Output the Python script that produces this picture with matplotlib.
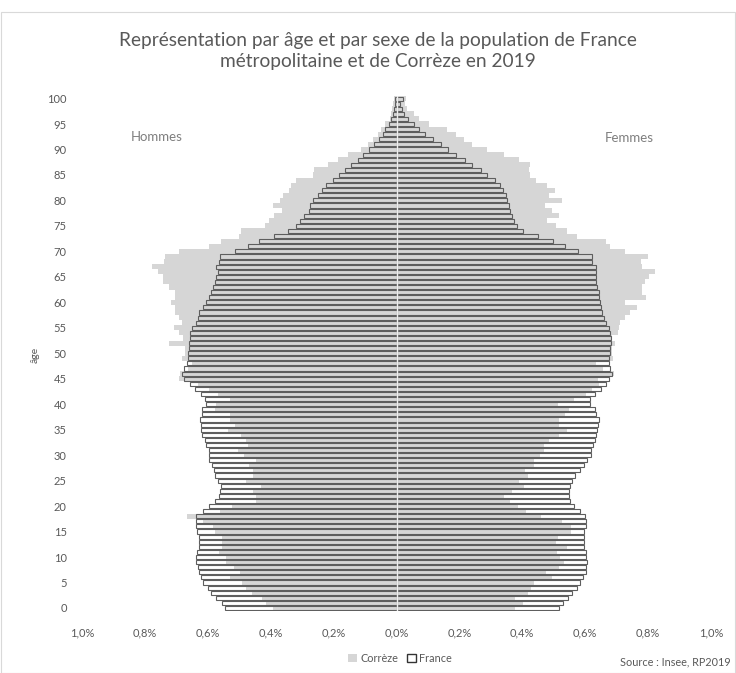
import numpy as np
import matplotlib
matplotlib.use('Agg')
import matplotlib.pyplot as plt
from matplotlib.patches import Patch, Rectangle
from matplotlib.ticker import FuncFormatter

plt.rcParams['font.family'] = ['Lato', 'DejaVu Sans']

ages = list(range(0, 101))
age_ticks = list(range(0, 101, 5))
x_ticks = [-1.0, -0.8, -0.6, -0.4, -0.2, 0.0, 0.2, 0.4, 0.6, 0.8, 1.0]

# part de chaque age dans la population (%)
france_h = [0.544, 0.554, 0.573, 0.591, 0.600, 0.614, 0.621, 0.629, 0.632, 0.639,
            0.637, 0.634, 0.629, 0.629, 0.629, 0.634, 0.637, 0.639, 0.639, 0.616,
            0.597, 0.578, 0.563, 0.561, 0.557, 0.566, 0.576, 0.581, 0.588, 0.595,
            0.595, 0.597, 0.605, 0.608, 0.618, 0.621, 0.621, 0.624, 0.620, 0.618,
            0.607, 0.609, 0.622, 0.642, 0.658, 0.677, 0.681, 0.677, 0.666, 0.662,
            0.662, 0.661, 0.660, 0.658, 0.656, 0.650, 0.639, 0.631, 0.627, 0.616,
            0.605, 0.597, 0.589, 0.582, 0.578, 0.573, 0.569, 0.573, 0.565, 0.560,
            0.512, 0.473, 0.436, 0.388, 0.344, 0.321, 0.308, 0.293, 0.279, 0.275,
            0.264, 0.250, 0.236, 0.224, 0.202, 0.183, 0.165, 0.146, 0.123, 0.107,
            0.088, 0.073, 0.056, 0.044, 0.035, 0.024, 0.017, 0.012, 0.008, 0.006, 0.006]
correze_h = [0.393, 0.414, 0.427, 0.460, 0.480, 0.491, 0.531, 0.499, 0.518, 0.542,
             0.542, 0.565, 0.556, 0.556, 0.556, 0.576, 0.584, 0.616, 0.665, 0.561,
             0.523, 0.446, 0.446, 0.457, 0.432, 0.480, 0.457, 0.457, 0.470, 0.446,
             0.485, 0.503, 0.473, 0.480, 0.494, 0.536, 0.513, 0.529, 0.528, 0.576,
             0.573, 0.531, 0.568, 0.597, 0.632, 0.692, 0.688, 0.663, 0.651, 0.681,
             0.674, 0.674, 0.722, 0.678, 0.692, 0.708, 0.681, 0.692, 0.705, 0.705,
             0.716, 0.705, 0.705, 0.722, 0.741, 0.741, 0.759, 0.777, 0.738, 0.735,
             0.692, 0.597, 0.557, 0.501, 0.496, 0.417, 0.404, 0.391, 0.364, 0.393,
             0.370, 0.361, 0.342, 0.335, 0.319, 0.266, 0.263, 0.218, 0.187, 0.155,
             0.112, 0.091, 0.075, 0.059, 0.049, 0.035, 0.022, 0.017, 0.014, 0.010, 0.008]
france_f = [0.516, 0.530, 0.545, 0.559, 0.575, 0.585, 0.592, 0.601, 0.603, 0.606,
            0.601, 0.601, 0.597, 0.597, 0.597, 0.597, 0.603, 0.603, 0.599, 0.582,
            0.564, 0.553, 0.550, 0.550, 0.553, 0.559, 0.569, 0.583, 0.597, 0.606,
            0.617, 0.620, 0.624, 0.631, 0.635, 0.639, 0.640, 0.643, 0.633, 0.630,
            0.615, 0.615, 0.630, 0.649, 0.667, 0.675, 0.686, 0.680, 0.675, 0.677,
            0.680, 0.680, 0.683, 0.683, 0.680, 0.677, 0.665, 0.659, 0.655, 0.651,
            0.648, 0.643, 0.643, 0.638, 0.635, 0.634, 0.635, 0.635, 0.622, 0.621,
            0.577, 0.535, 0.497, 0.449, 0.402, 0.382, 0.373, 0.366, 0.362, 0.359,
            0.352, 0.347, 0.338, 0.328, 0.313, 0.288, 0.270, 0.241, 0.217, 0.190,
            0.163, 0.140, 0.115, 0.092, 0.073, 0.055, 0.037, 0.023, 0.016, 0.010, 0.020]
correze_f = [0.376, 0.403, 0.376, 0.419, 0.429, 0.437, 0.495, 0.476, 0.518, 0.532,
             0.521, 0.511, 0.543, 0.506, 0.514, 0.556, 0.556, 0.527, 0.461, 0.412,
             0.387, 0.362, 0.341, 0.366, 0.405, 0.391, 0.419, 0.410, 0.437, 0.437,
             0.455, 0.468, 0.468, 0.484, 0.518, 0.543, 0.518, 0.518, 0.536, 0.547,
             0.514, 0.564, 0.603, 0.622, 0.643, 0.640, 0.693, 0.656, 0.633, 0.688,
             0.684, 0.686, 0.696, 0.686, 0.705, 0.709, 0.712, 0.728, 0.741, 0.765,
             0.728, 0.794, 0.781, 0.781, 0.790, 0.802, 0.821, 0.781, 0.776, 0.799,
             0.728, 0.680, 0.665, 0.575, 0.543, 0.508, 0.479, 0.518, 0.495, 0.472,
             0.525, 0.484, 0.503, 0.479, 0.442, 0.426, 0.421, 0.426, 0.389, 0.341,
             0.288, 0.241, 0.214, 0.188, 0.161, 0.103, 0.071, 0.055, 0.034, 0.026, 0.031]

W, H = 736, 673
grey = '#D6D6D6'
edge = '#5E5E5E'
txt = '#595959'

fig = plt.figure(figsize=(W / 100, H / 100), dpi=100)
fig.patches.append(Rectangle((0.5 / W, 0.5 / H), 1 - 1.5 / W, 1 - 12 / H, transform=fig.transFigure,
                             fill=False, edgecolor='#D9D9D9', lw=0.8))

ax = fig.add_axes([82 / W, 1 - 611 / H, (711 - 82) / W, (611 - 95.5) / H])

fh = -np.array(france_h)
ch = -np.array(correze_h)
ff = np.array(france_f)
cf = np.array(correze_f)

# France : fond blanc, Correze en gris, puis contour France par dessus
ax.barh(ages, fh, height=0.8, color='white', zorder=1)
ax.barh(ages, ff, height=0.8, color='white', zorder=1)
ax.barh(ages, ch, height=1.0, color=grey, zorder=2)
ax.barh(ages, cf, height=1.0, color=grey, zorder=2)
ax.barh(ages, fh, height=0.8, facecolor='none', edgecolor=edge, lw=0.8, zorder=3)
ax.barh(ages, ff, height=0.8, facecolor='none', edgecolor=edge, lw=0.8, zorder=3)
ax.axvline(0, color='#EDEDED', lw=1.0, zorder=4)

ax.set_xlim(-1.0, 1.0)
ax.set_ylim(-0.6, 100.6)
ax.set_xticks(x_ticks)
ax.xaxis.set_major_formatter(FuncFormatter(lambda v, p: ('%.1f%%' % abs(v)).replace('.', ',')))
ax.set_yticks(age_ticks)
ax.tick_params(axis='both', length=0, labelsize=8, labelcolor=txt)
ax.tick_params(axis='y', pad=11)
ax.tick_params(axis='x', pad=12)
for s in ax.spines.values():
    s.set_visible(False)

fig.text(35 / W, 1 - 355 / H, 'âge', rotation=90, ha='center', va='center', fontsize=7.5, color=txt)
fig.text(157 / W, 1 - 137 / H, 'Hommes', ha='center', va='center', fontsize=9.5, color='#7F7F7F')
fig.text(629 / W, 1 - 138 / H, 'Femmes', ha='center', va='center', fontsize=9.5, color='#7F7F7F')
fig.text(378 / W, 1 - 51 / H, 'Représentation par âge et par sexe de la population de France\nmétropolitaine et de Corrèze en 2019',
         ha='center', va='center', fontsize=13.8, color=txt, linespacing=1.35)
fig.text(731 / W, 1 - 662 / H, 'Source : Insee, RP2019', ha='right', va='center', fontsize=7.8, color=txt)

handles = [Patch(facecolor=grey, edgecolor='none', label='Corrèze'),
           Patch(facecolor='white', edgecolor='#333333', lw=1, label='France')]
fig.legend(handles=handles, loc='center', bbox_to_anchor=(400 / W, 1 - 658 / H), ncol=2, frameon=False,
           fontsize=7.8, labelcolor=txt, handlelength=0.8, handleheight=0.8, handletextpad=0.3, columnspacing=0.8)

fig.savefig('out.png', dpi=100)
